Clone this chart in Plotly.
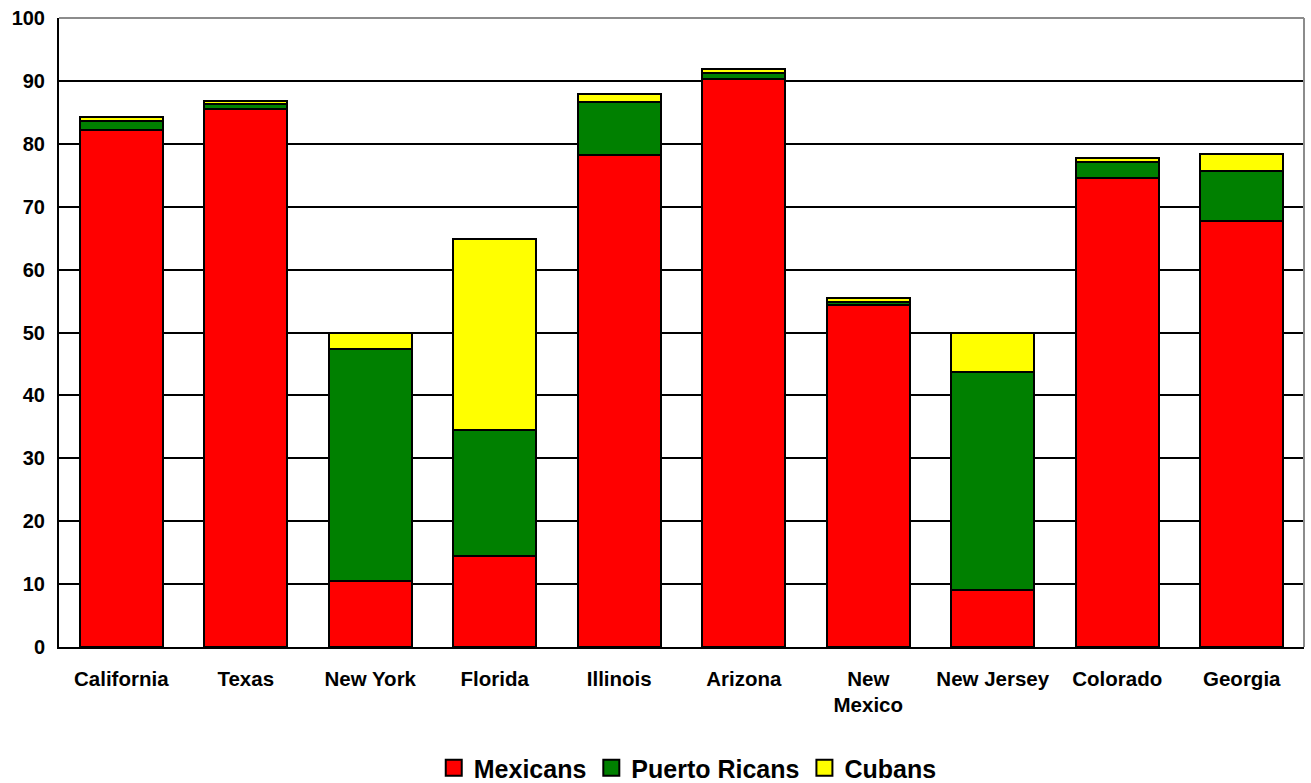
import plotly.graph_objects as go

# States and shares (percent of Hispanic population)
states = ["California", "Texas", "New York", "Florida", "Illinois",
          "Arizona", "New<br>Mexico", "New Jersey", "Colorado", "Georgia"]
mexicans = [82.2, 85.5, 10.5, 14.4, 78.2, 90.3, 54.4, 9.0, 74.6, 67.8]
puerto_ricans = [1.4, 0.9, 36.9, 20.1, 8.5, 1.0, 0.5, 34.8, 2.5, 7.9]
cubans = [0.6, 0.4, 2.5, 30.4, 1.2, 0.6, 0.6, 6.2, 0.6, 2.6]

series = [
    ("Mexicans", mexicans, "#FF0000"),
    ("Puerto Ricans", puerto_ricans, "#008000"),
    ("Cubans", cubans, "#FFFF00"),
]

font_name = "Liberation Sans"

fig = go.Figure()
for name, vals, col in series:
    fig.add_trace(go.Bar(
        x=states, y=vals, name=name, showlegend=False,
        marker=dict(color=col, line=dict(color="black", width=2)),
    ))

# bigger square legend keys
for name, vals, col in series:
    fig.add_trace(go.Scatter(
        x=[None], y=[None], mode="markers", name=name,
        marker=dict(symbol="square", size=18, color=col,
                    line=dict(color="black", width=2)),
    ))

# gray frame on top and right
fig.add_shape(type="line", xref="paper", yref="paper", x0=0, x1=1, y0=1, y1=1,
              line=dict(color="#8c8c8c", width=2))
fig.add_shape(type="line", xref="paper", yref="paper", x0=1, x1=1, y0=0, y1=1,
              line=dict(color="#8c8c8c", width=2))

fig.update_layout(
    barmode="stack",
    bargap=0.333,
    width=1311, height=783,
    margin=dict(l=59, r=7, t=14, b=136),
    plot_bgcolor="white",
    paper_bgcolor="white",
    font=dict(family=font_name, color="black"),
    legend=dict(
        orientation="h", x=0.301, xanchor="left",
        yref="container", y=0.019, yanchor="middle",
        font=dict(size=25, family=font_name, weight="bold"),
        traceorder="normal", itemwidth=30, tracegroupgap=0,
    ),
    xaxis=dict(
        showline=True, linecolor="black", linewidth=2,
        tickfont=dict(size=20.5, family=font_name, weight="bold"),
        ticks="", showgrid=False, ticklabelstandoff=12,
    ),
    yaxis=dict(
        range=[0, 100], dtick=10,
        showline=True, linecolor="black", linewidth=2,
        showgrid=True, gridcolor="black", gridwidth=2,
        zeroline=False,
        ticks="", ticklen=0, ticklabelstandoff=8,
        tickfont=dict(size=20, family=font_name, weight="bold"),
    ),
)

# page margin off so the figure sits at the window corner
fig.write_html("out.html", config={"displayModeBar": False},
               post_script="document.body.style.margin='0';")
